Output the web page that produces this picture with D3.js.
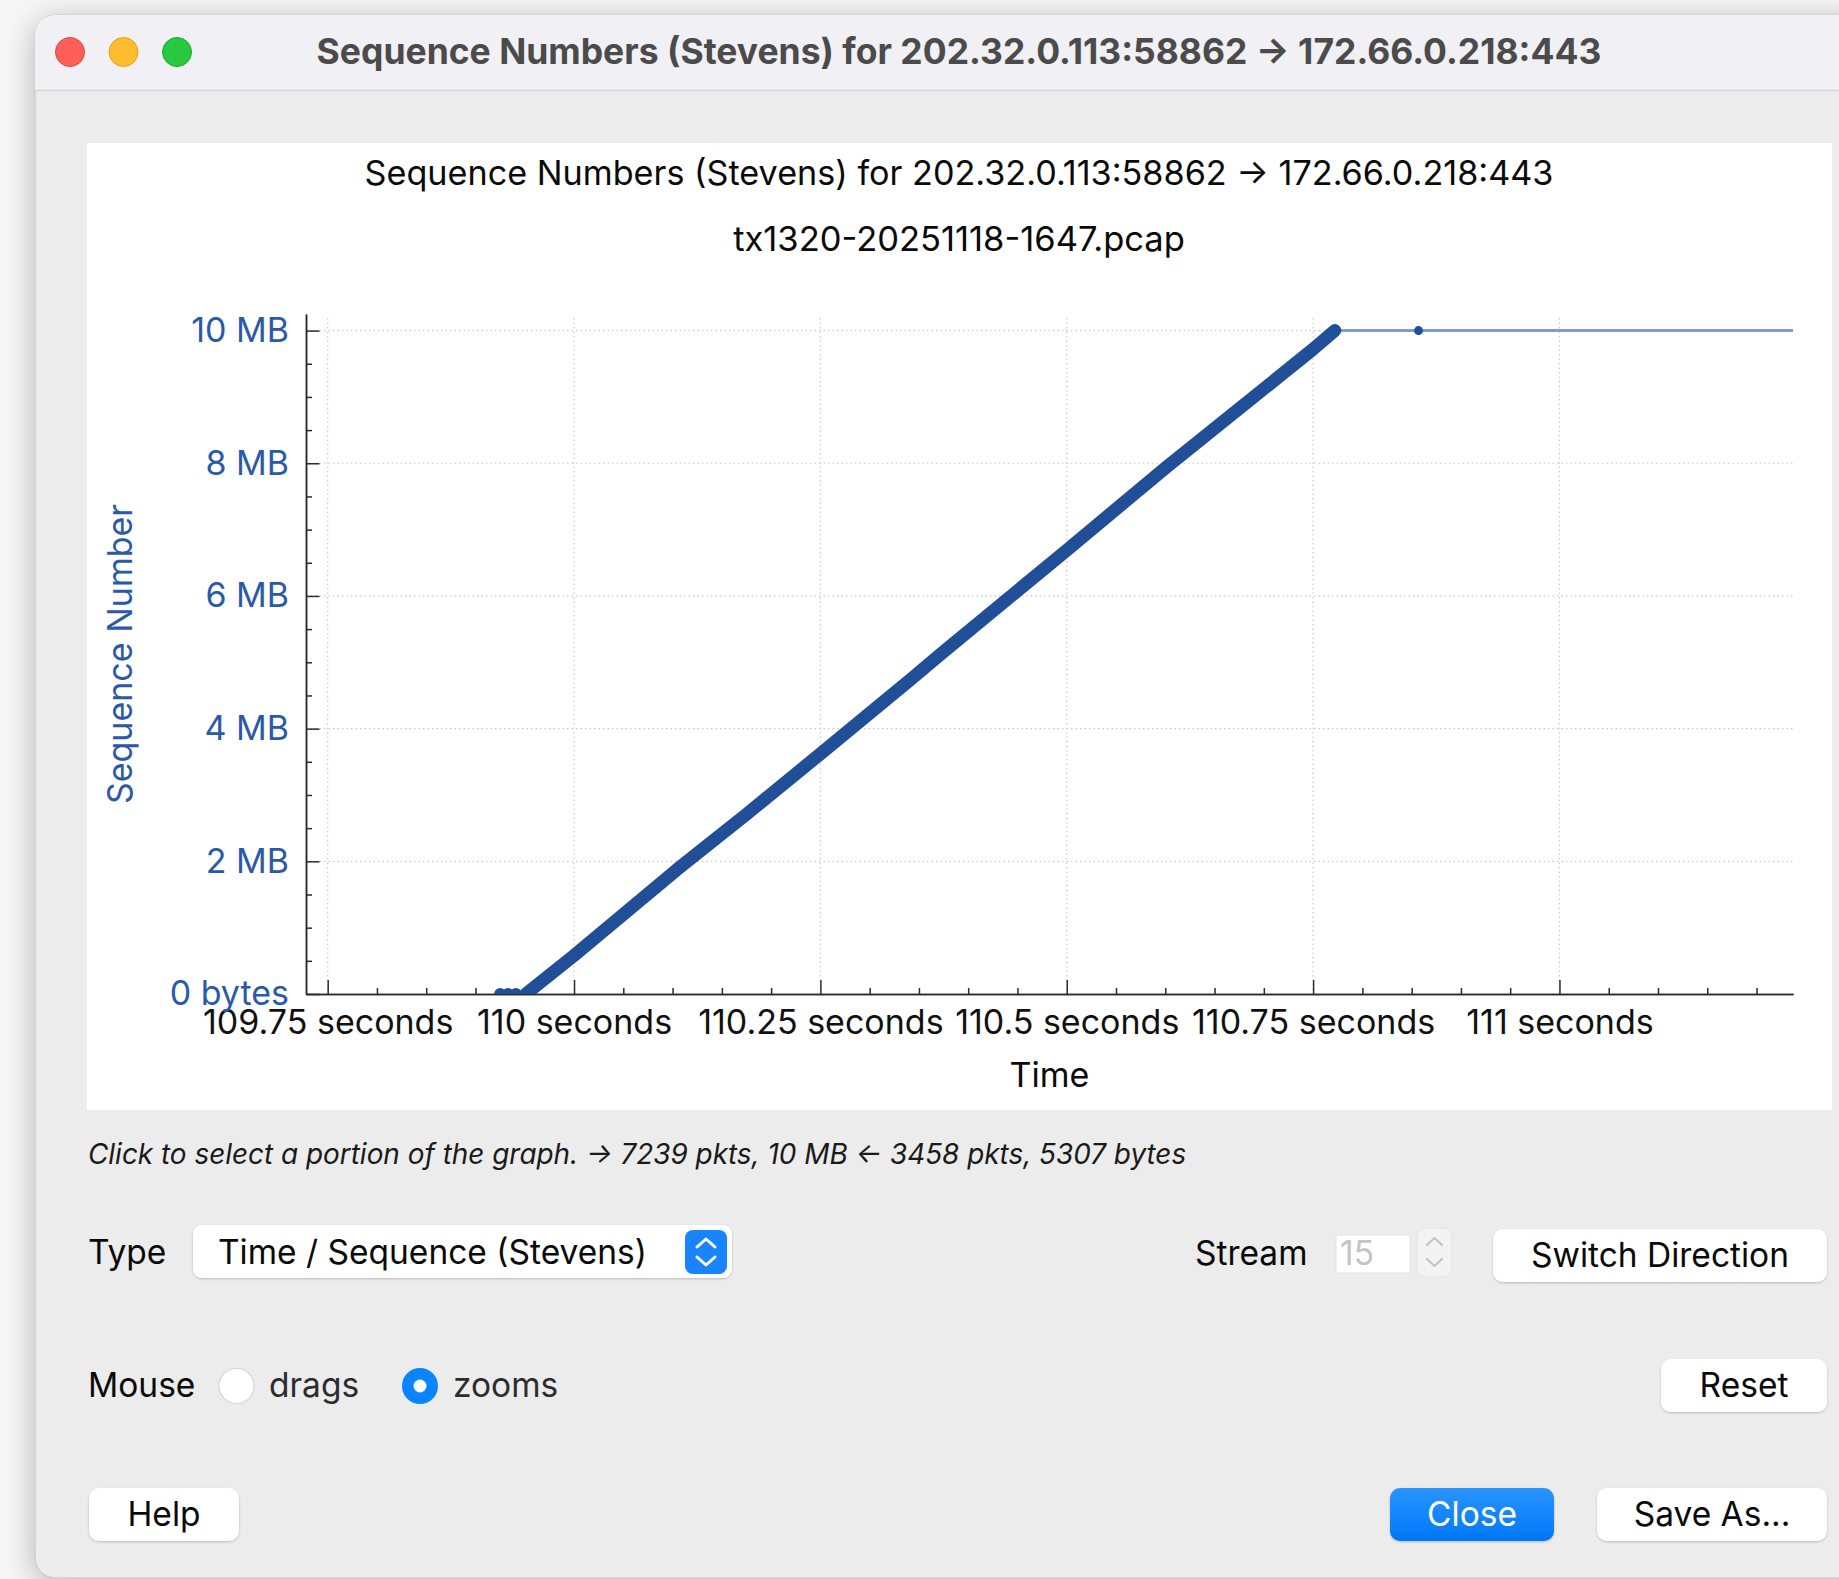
<!DOCTYPE html>
<html lang="en">
<head>
  <meta charset="UTF-8">
  <script src="https://cdn.jsdelivr.net/npm/d3@7"></script>
  <title>Sequence Numbers (Stevens)</title>
  <style>
    body { margin: 0; background: #f7f7f7; }
    svg { display: block; font-family: Inter, "Noto Sans", sans-serif; }
    .axis path, .axis line { stroke: #2b2b2b; stroke-width: 1.5; }
    .xaxis text { font-size: 34px; fill: #111; font-family: Inter, sans-serif; }
    .yaxis text { font-size: 34px; fill: #2a5aa7; font-family: Inter, sans-serif; }
    .grid { stroke: #c9c9c9; stroke-width: 1.2; stroke-dasharray: 1.5,3; }
    .ui { font-size: 33.5px; fill: #0a0a0a; }
  </style>
</head>
<body>

<div id="chart"></div>

<script>
  // chart data
  var seqTimes = [109.951, 110.0, 110.104, 110.175, 110.25, 110.344, 110.371, 110.5, 110.601, 110.75, 110.772];
  var seqMB    = [0.0,     0.58,  1.87,    2.71,    3.62,   4.77,    5.11,    6.69,  7.94,    9.72,   10.0];
  var startTimes = [109.925, 109.933, 109.941];   // few segments sitting at 0
  var flatTimes  = [110.772, 111.237];             // last seq held at 10 MB
  var flatMB     = [10.0, 10.0];
  var dotTimes   = [110.857];
  var dotMB      = [10.0];

  var xTicks = [109.75, 110, 110.25, 110.5, 110.75, 111];
  var xTickLabels = ["109.75 seconds", "110 seconds", "110.25 seconds", "110.5 seconds", "110.75 seconds", "111 seconds"];
  var yTicks = [0, 2, 4, 6, 8, 10];
  var yTickLabels = ["0 bytes", "2 MB", "4 MB", "6 MB", "8 MB", "10 MB"];

  var winTitle = "Sequence Numbers (Stevens) for 202.32.0.113:58862 \u2192 172.66.0.218:443";
  var subTitle = "tx1320-20251118-1647.pcap";
  var statusText = "Click to select a portion of the graph. \u2192 7239 pkts, 10 MB \u2190 3458 pkts, 5307 bytes";

  var W = 1839, H = 1579;
  var blue = "#214f97";

  var svg = d3.select("#chart").append("svg")
    .attr("width", W)
    .attr("height", H);

  var defs = svg.append("defs");
  defs.append("filter").attr("id", "winShadow")
    .attr("x", "-10%").attr("y", "-10%").attr("width", "120%").attr("height", "120%")
    .append("feDropShadow")
    .attr("dx", 0).attr("dy", 6).attr("stdDeviation", 16)
    .attr("flood-color", "#000").attr("flood-opacity", 0.28);
  defs.append("filter").attr("id", "btnShadow")
    .attr("x", "-20%").attr("y", "-30%").attr("width", "140%").attr("height", "170%")
    .append("feDropShadow")
    .attr("dx", 0).attr("dy", 1).attr("stdDeviation", 1.2)
    .attr("flood-color", "#000").attr("flood-opacity", 0.22);
  defs.append("clipPath").attr("id", "winClip")
    .append("rect").attr("x", 35).attr("y", 15).attr("width", 1900).attr("height", 1563).attr("rx", 20);
  defs.append("clipPath").attr("id", "plotClip")
    .append("rect").attr("x", 306).attr("y", 300).attr("width", 1488).attr("height", 694);
  var closeGrad = defs.append("linearGradient").attr("id", "closeGrad")
    .attr("x1", 0).attr("y1", 0).attr("x2", 0).attr("y2", 1);
  closeGrad.append("stop").attr("offset", "0%").attr("stop-color", "#2a95ff");
  closeGrad.append("stop").attr("offset", "100%").attr("stop-color", "#0077f7");

  // window
  svg.append("rect")
    .attr("x", 35).attr("y", 15).attr("width", 1900).attr("height", 1563).attr("rx", 20)
    .attr("fill", "#ececec").attr("stroke", "#bfbfbf").attr("stroke-width", 1)
    .attr("filter", "url(#winShadow)");

  var win = svg.append("g").attr("clip-path", "url(#winClip)");
  win.append("rect").attr("x", 35).attr("y", 15).attr("width", 1900).attr("height", 75).attr("fill", "#f1f0f5");
  win.append("line").attr("x1", 35).attr("x2", 1900).attr("y1", 90.5).attr("y2", 90.5)
    .attr("stroke", "#d3d3d6").attr("stroke-width", 1.5);

  var lights = [["#ff5f57", "#e0443e"], ["#febc2e", "#dea123"], ["#28c840", "#1aab29"]];
  win.selectAll(".light").data(lights).enter().append("circle")
    .attr("cx", function(d, i) { return 70 + i * 53.5; })
    .attr("cy", 52)
    .attr("r", 14.5)
    .attr("fill", function(d) { return d[0]; })
    .attr("stroke", function(d) { return d[1]; })
    .attr("stroke-width", 1);

  win.append("text")
    .attr("x", 959).attr("y", 64)
    .attr("text-anchor", "middle")
    .style("font-size", "35.5px").style("font-weight", "700")
    .attr("fill", "#4b4b4b")
    .text(winTitle);

  // white graph panel
  svg.append("rect").attr("x", 87).attr("y", 143).attr("width", 1745).attr("height", 967).attr("fill", "#fff");

  svg.append("text")
    .attr("x", 959).attr("y", 185)
    .attr("text-anchor", "middle")
    .style("font-size", "34.2px")
    .attr("fill", "#0a0a0a")
    .text(winTitle);

  svg.append("text")
    .attr("x", 959).attr("y", 251)
    .attr("text-anchor", "middle")
    .style("font-size", "34.5px")
    .attr("fill", "#0a0a0a")
    .text(subTitle);

  // scales
  var xScale = d3.scaleLinear().domain([109.728, 111.237]).range([306, 1793]);
  var yScale = d3.scaleLinear().domain([0, 10.25]).range([994, 314]);

  // grid
  svg.selectAll(".vgrid").data(xTicks).enter().append("line")
    .attr("class", "grid")
    .attr("x1", function(d) { return xScale(d); })
    .attr("x2", function(d) { return xScale(d); })
    .attr("y1", yScale(10.25) + 4)
    .attr("y2", yScale(0));

  svg.selectAll(".hgrid").data(yTicks.slice(1)).enter().append("line")
    .attr("class", "grid")
    .attr("x1", xScale.range()[0])
    .attr("x2", xScale.range()[1])
    .attr("y1", function(d) { return yScale(d); })
    .attr("y2", function(d) { return yScale(d); });

  // minor ticks
  var xMinor = d3.range(0, 30).map(function(i) { return +(109.75 + i * 0.05).toFixed(2); })
    .filter(function(v) { return v <= 111.237 && xTicks.indexOf(v) < 0; });
  var yMinor = d3.range(1, 21).map(function(i) { return i * 0.5; })
    .filter(function(v) { return yTicks.indexOf(v) < 0; });

  svg.append("g").attr("class", "axis")
    .attr("transform", "translate(0," + yScale(0) + ")")
    .call(d3.axisBottom(xScale).tickValues(xMinor).tickSize(-6).tickSizeOuter(0).tickFormat(""));

  svg.append("g").attr("class", "axis")
    .attr("transform", "translate(" + xScale.range()[0] + ",0)")
    .call(d3.axisLeft(yScale).tickValues(yMinor).tickSize(-6).tickSizeOuter(0).tickFormat(""));

  // major axes
  svg.append("g").attr("class", "axis xaxis")
    .attr("transform", "translate(0," + yScale(0) + ")")
    .call(d3.axisBottom(xScale)
      .tickValues(xTicks)
      .tickFormat(function(d, i) { return xTickLabels[i]; })
      .tickSize(-14).tickSizeOuter(0).tickPadding(16));

  svg.append("g").attr("class", "axis yaxis")
    .attr("transform", "translate(" + xScale.range()[0] + ",0)")
    .call(d3.axisLeft(yScale)
      .tickValues(yTicks)
      .tickFormat(function(d, i) { return yTickLabels[i]; })
      .tickSize(-13.5).tickSizeOuter(0).tickPadding(17));

  // axis titles
  svg.append("text")
    .attr("x", (xScale.range()[0] + xScale.range()[1]) / 2)
    .attr("y", 1087)
    .attr("text-anchor", "middle")
    .style("font-size", "34px")
    .attr("fill", "#0a0a0a")
    .text("Time");

  svg.append("text")
    .attr("transform", "translate(132," + (yScale(0) + yScale(10.25)) / 2 + ")rotate(-90)")
    .attr("text-anchor", "middle")
    .style("font-size", "34px")
    .attr("fill", "#2a5aa7")
    .text("Sequence Number");

  // the data
  var plot = svg.append("g").attr("clip-path", "url(#plotClip)");

  var line = d3.line()
    .x(function(d) { return xScale(d[0]); })
    .y(function(d) { return yScale(d[1]); });

  plot.append("path")
    .datum(flatTimes.map(function(t, i) { return [t, flatMB[i]]; }))
    .attr("d", line)
    .attr("fill", "none")
    .attr("stroke", "#5a7cbc")
    .attr("stroke-opacity", 0.75)
    .attr("stroke-width", 3);

  plot.append("path")
    .datum(seqTimes.map(function(t, i) { return [t, seqMB[i]]; }))
    .attr("d", line)
    .attr("fill", "none")
    .attr("stroke", blue)
    .attr("stroke-width", 13)
    .attr("stroke-linecap", "round")
    .attr("stroke-linejoin", "round");

  plot.selectAll(".start").data(startTimes).enter().append("circle")
    .attr("cx", function(d) { return xScale(d); })
    .attr("cy", yScale(0))
    .attr("r", 6)
    .attr("fill", blue);

  plot.selectAll(".dot").data(dotTimes).enter().append("circle")
    .attr("cx", function(d) { return xScale(d); })
    .attr("cy", function(d, i) { return yScale(dotMB[i]); })
    .attr("r", 4.5)
    .attr("fill", blue);

  // status line
  svg.append("text")
    .attr("x", 88).attr("y", 1164)
    .style("font-size", "27.9px").style("font-style", "italic")
    .attr("fill", "#1a1a1a")
    .text(statusText);

  // controls
  function button(x0, y0, w, h, label, primary) {
    var b = svg.append("g");
    b.append("rect")
      .attr("x", x0).attr("y", y0).attr("width", w).attr("height", h).attr("rx", 10)
      .attr("fill", primary ? "url(#closeGrad)" : "#fff")
      .attr("filter", "url(#btnShadow)");
    b.append("text")
      .attr("class", "ui")
      .attr("x", x0 + w / 2).attr("y", y0 + h / 2 + 11)
      .attr("text-anchor", "middle")
      .style("fill", primary ? "#fff" : "#0a0a0a")
      .text(label);
  }

  svg.append("text").attr("class", "ui").attr("x", 88).attr("y", 1264).text("Type");

  svg.append("rect")
    .attr("x", 193).attr("y", 1225).attr("width", 539).attr("height", 53).attr("rx", 9)
    .attr("fill", "#fff").attr("filter", "url(#btnShadow)");
  svg.append("text").attr("class", "ui").attr("x", 218).attr("y", 1264).text("Time / Sequence (Stevens)");
  svg.append("rect")
    .attr("x", 685).attr("y", 1230).attr("width", 42).attr("height", 44).attr("rx", 8)
    .attr("fill", "#1a84ff");
  svg.append("path").attr("d", "M697,1247 L706,1239 L715,1247 M697,1257 L706,1265 L715,1257")
    .attr("fill", "none").attr("stroke", "#fff").attr("stroke-width", 3)
    .attr("stroke-linecap", "round").attr("stroke-linejoin", "round");

  svg.append("text").attr("class", "ui").attr("x", 1195).attr("y", 1265).text("Stream");
  svg.append("rect")
    .attr("x", 1336).attr("y", 1235).attr("width", 74).attr("height", 38)
    .attr("fill", "#fff").attr("stroke", "#e2e2e2").attr("stroke-width", 1);
  svg.append("text").attr("class", "ui").attr("x", 1340).attr("y", 1265)
    .style("fill", "#c4c4c4").text("15");
  svg.append("rect")
    .attr("x", 1417).attr("y", 1228).attr("width", 35).attr("height", 49).attr("rx", 9)
    .attr("fill", "#f3f3f3").attr("stroke", "#e4e4e4").attr("stroke-width", 1);
  svg.append("path").attr("d", "M1427,1245 L1434.5,1238 L1442,1245 M1427,1259 L1434.5,1266 L1442,1259")
    .attr("fill", "none").attr("stroke", "#c2c2c2").attr("stroke-width", 2.2)
    .attr("stroke-linecap", "round").attr("stroke-linejoin", "round");

  button(1493, 1229, 334, 53, "Switch Direction", false);

  svg.append("text").attr("class", "ui").attr("x", 88).attr("y", 1397).text("Mouse");
  svg.append("circle").attr("cx", 236.5).attr("cy", 1386).attr("r", 17.5)
    .attr("fill", "#fff").attr("stroke", "#d6d6d6").attr("stroke-width", 1.2);
  svg.append("text").attr("class", "ui").attr("x", 269).attr("y", 1397).style("fill", "#2c2c2c").text("drags");
  svg.append("circle").attr("cx", 420).attr("cy", 1386).attr("r", 18)
    .attr("fill", "#0a84ff");
  svg.append("circle").attr("cx", 420).attr("cy", 1386).attr("r", 6.5)
    .attr("fill", "#fff");
  svg.append("text").attr("class", "ui").attr("x", 453).attr("y", 1397).style("fill", "#2c2c2c").text("zooms");

  button(1661, 1359, 166, 53, "Reset", false);
  button(89, 1488, 150, 53, "Help", false);
  button(1390, 1488, 164, 53, "Close", true);
  button(1597, 1488, 230, 53, "Save As...", false);

</script>

</body>
</html>
